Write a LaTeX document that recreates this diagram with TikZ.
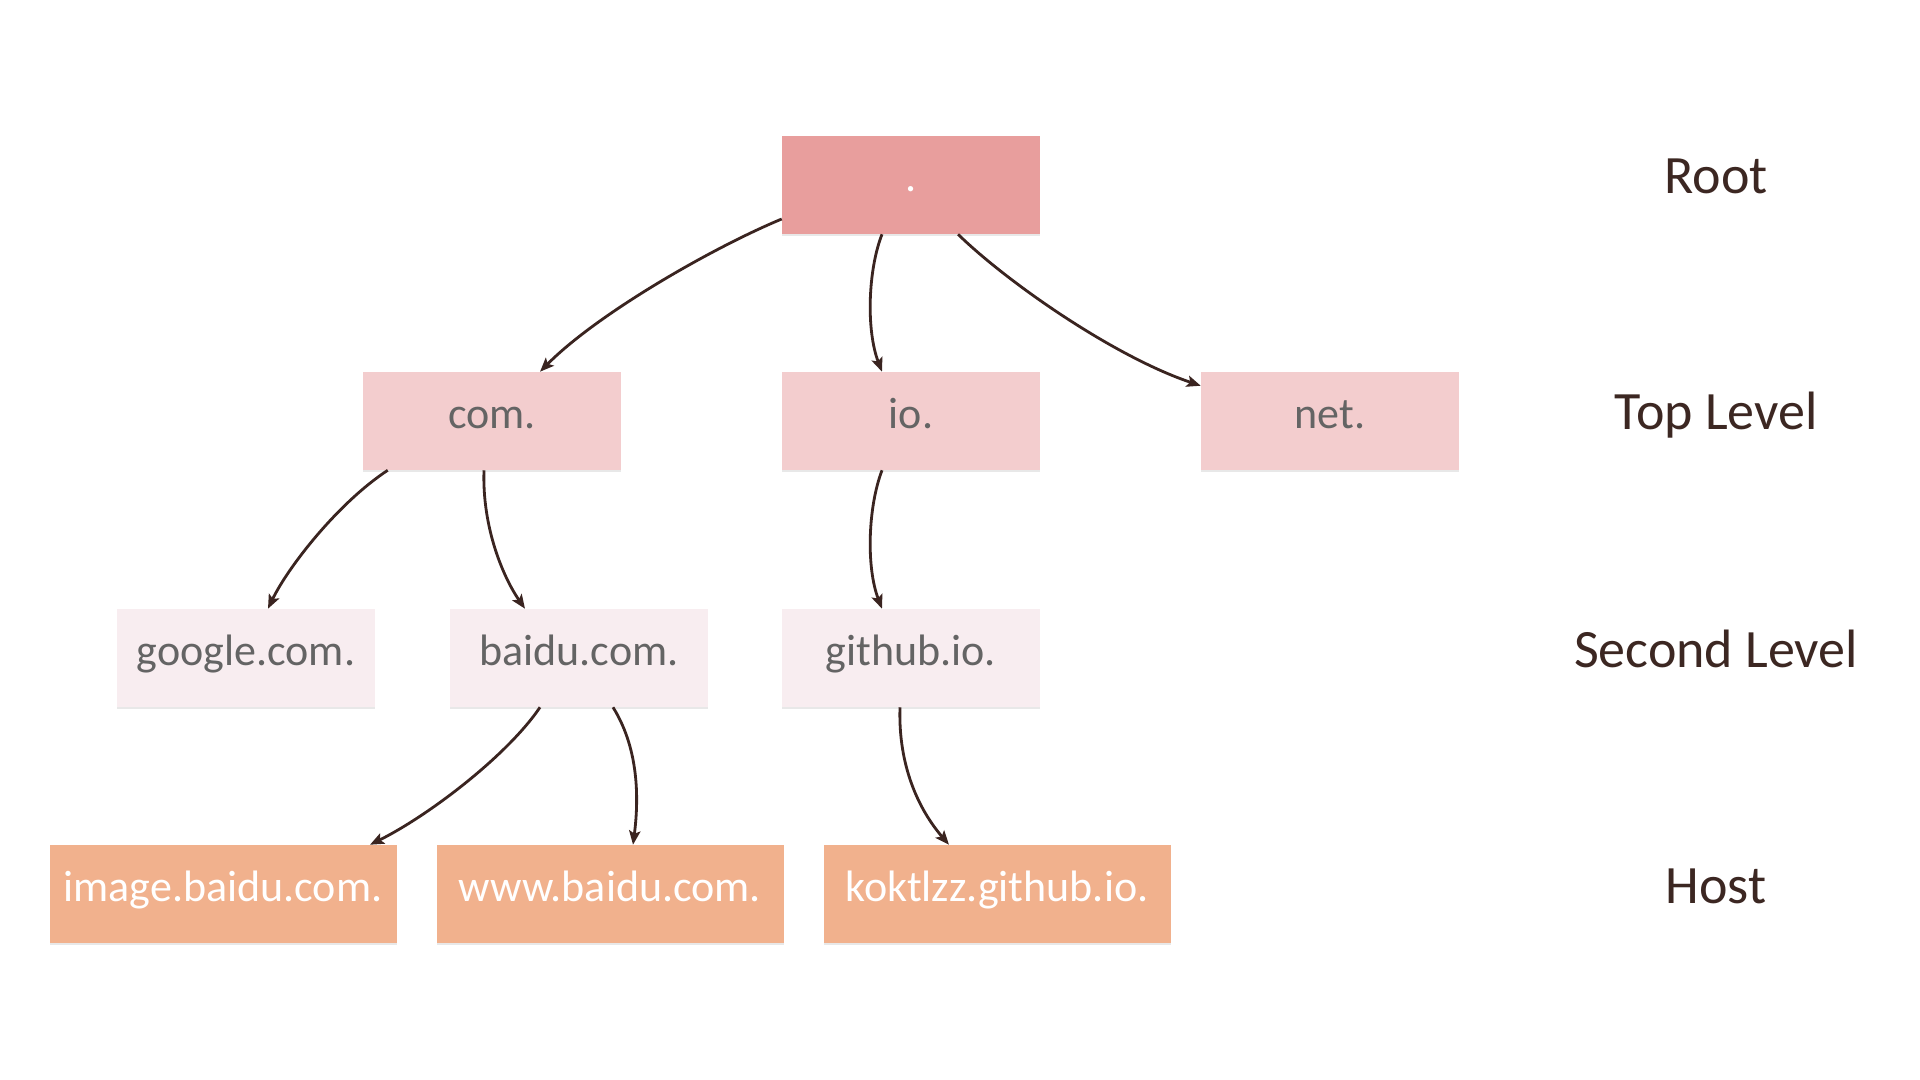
\documentclass[tikz,border=0pt]{standalone}
\usepackage{fontspec}
\setmainfont{Carlito}
\usetikzlibrary{arrows.meta,shadows}
\definecolor{rootc}{HTML}{E89E9D}
\definecolor{topc}{HTML}{F3CDCE}
\definecolor{secc}{HTML}{F8EDF0}
\definecolor{hostc}{HTML}{F1B18D}
\definecolor{txtc}{HTML}{646464}
\definecolor{lblc}{HTML}{3C2722}
\definecolor{arrc}{HTML}{3A2420}
\tikzset{
 box/.style={rectangle, inner sep=0pt, minimum width=193.5pt, minimum height=73.5pt,
   text height=18.75pt, text depth=8.25pt, font=\fontsize{33}{40}\selectfont, text=txtc,
   drop shadow={shadow xshift=0pt, shadow yshift=-1.2pt, opacity=0.18}},
 rootbox/.style={box, fill=rootc, text=white},
 topbox/.style={box, fill=topc},
 secbox/.style={box, fill=secc},
 hostbox/.style={box, fill=hostc, text=white, minimum width=260.25pt},
 lvl/.style={inner sep=0pt, text height=21.75pt, text depth=8.25pt,
   font=\fontsize{40.5}{48}\selectfont, text=lblc},
 link/.style={draw=arrc, line width=2.1pt, -{Stealth[length=10.5pt,width=8.5pt,inset=2.2pt]}},
}
\begin{document}
\begin{tikzpicture}[x=0.75pt,y=-0.75pt]
\useasboundingbox[fill=white] (0,0) rectangle (1920,1080);
% nodes
\node[rootbox] (root) at (911,185) {.};
\node[topbox] (com) at (492,421) {com.};
\node[topbox] (io) at (911,421) {io.};
\node[topbox] (net) at (1330,421) {net.};
\node[secbox] (google) at (246,658) {google.com.};
\node[secbox] (baidu) at (579,658) {baidu.com.};
\node[secbox] (github) at (911,658) {github.io.};
\node[hostbox] (image) at (223,894) {image.baidu.com.};
\node[hostbox] (www) at (610,894) {www.baidu.com.};
\node[hostbox] (kok) at (997,894) {koktlzz.github.io.};
% level labels
\node[lvl] (lroot) at (1716,185) {Root};
\node[lvl] (ltop) at (1716,421) {Top Level};
\node[lvl] (lsec) at (1716,658) {Second Level};
\node[lvl] (lhost) at (1716,894) {Host};
% connectors
\draw[link] ([yshift=-25.5pt]root.west) .. controls (712,248) and (597,314) .. ([xshift=36pt]com.north);
\draw[link] ([xshift=-21.75pt]root.south) .. controls (868,270) and (866,330) .. ([xshift=-21.75pt]io.north);
\draw[link] ([xshift=35.25pt]root.south) .. controls (1008,283) and (1115,357) .. ([yshift=-10.5pt]net.north west);
\draw[link] ([xshift=18.75pt]com.south west) .. controls (338,503) and (288,567) .. ([xshift=16.5pt]google.north);
\draw[link] ([xshift=-6pt]com.south) .. controls (482,527) and (503,577) .. ([xshift=-40.5pt]baidu.north);
\draw[link] ([xshift=-21.75pt]io.south) .. controls (868,507) and (866,567) .. ([xshift=-21.75pt]github.north);
\draw[link] ([xshift=-29.25pt]baidu.south) .. controls (507,756) and (428,816) .. ([xshift=110.25pt]image.north);
\draw[link] ([xshift=25.5pt]baidu.south) .. controls (641,752) and (638,806) .. ([xshift=17.25pt]www.north);
\draw[link] ([xshift=-8.25pt]github.south) .. controls (898,766) and (919,810) .. ([xshift=-36pt]kok.north);
\end{tikzpicture}
\end{document}
